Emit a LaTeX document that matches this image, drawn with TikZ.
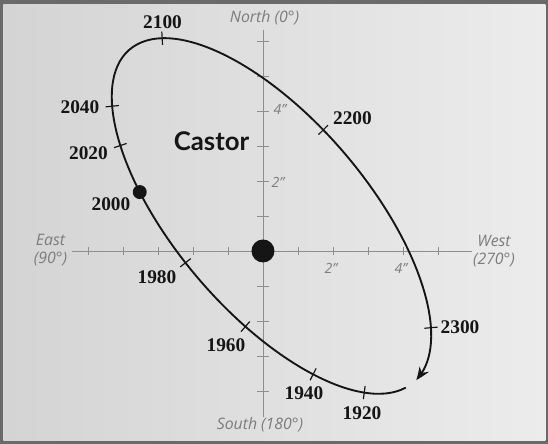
\documentclass[tikz,border=0pt]{standalone}
\usepackage{fontspec}
\setmainfont{Liberation Serif}
\setsansfont{Lato}
\newfontfamily\axisfont{Open Sans}
\usepackage{tikz}
\usetikzlibrary{calc,arrows.meta,bending}
\definecolor{colorframe}{HTML}{6A6A6A}
\definecolor{colorbgl}{HTML}{D4D4D4}
\definecolor{colorbgr}{HTML}{ECECEC}
\definecolor{coloraxis}{HTML}{8E8E8E}
\definecolor{colortext}{HTML}{7C7C7C}
\definecolor{colorink}{HTML}{151515}
\tikzset{
  axisline/.style={coloraxis, line width=0.7pt},
  axistick/.style={coloraxis, line width=0.6pt},
  orbit/.style={colorink, line width=1.6pt, -{Stealth[length=4mm, width=3.2mm, bend]}},
  yeartick/.style={colorink, line width=1pt},
  year/.style={draw=none, inner sep=0pt, colorink, font=\bfseries\fontsize{16.5}{18}\selectfont},
  compass/.style={draw=none, inner sep=0pt, colortext, align=center,
    font=\axisfont\itshape\fontsize{13.5}{15.5}\selectfont},
  arcsec/.style={draw=none, inner sep=0pt, colortext, font=\axisfont\itshape\fontsize{12}{14}\selectfont},
  stardot/.style={circle, fill=colorink, draw=none, inner sep=0pt}
}
\newcommand\asec[1]{#1”}

\begin{document}
\begin{tikzpicture}[x=1.05cm, y=1.05cm]
% page
\fill[colorframe] (-7.514,-5.514) rectangle (8.143,7.171);
\shade[left color=colorbgl, right color=colorbgr] (-7.42,-5.42) rectangle (8.07,7.04);
\useasboundingbox (-7.514,-5.514) rectangle (8.143,7.171);

% axes
\draw[axisline] (-5.46,0) -- (5.97,0);
\draw[axisline] (0,-4.74) -- (0,6.31);
\foreach \i in {1,...,5}{
  \draw[axistick] (\i,-0.12) -- (\i,0.12);
  \draw[axistick] (-\i,-0.12) -- (-\i,0.12);
}
\foreach \i in {1,...,6}
  \draw[axistick] (-0.16,\i) -- (0.16,\i);
\foreach \i in {1,...,4}
  \draw[axistick] (-0.16,-\i) -- (0.16,-\i);

\node[compass] (north) at (0.043,6.657) {North (0°)};
\node[compass] (south) at (-0.086,-4.971) {South (180°)};
\node[compass] (east) at (-6.071,0.014) {East\\(90°)};
\node[compass] (west) at (6.6,0) {West\\(270°)};

\node[arcsec] (v2) at (0.43,1.97) {\asec{2}};
\node[arcsec] (v4) at (0.486,4.03) {\asec{4}};
\node[arcsec] (h2) at (1.94,-0.486) {\asec{2}};
\node[arcsec] (h4) at (3.94,-0.486) {\asec{4}};

% orbit
\begin{scope}[shift={(0.243,1.0)}, rotate=-49.55]
\draw[orbit] ({6.25*cos(-5.5)},{2.75*sin(-5.5)})
  arc[start angle=-5.5, end angle=-357.8, x radius=6.25, y radius=2.75];
\foreach \t/\yr in {-27.2/1920, -47.6/1940, -72.1/1960, -95.3/1980,
  -118.3/2000, -133.9/2020, -148.7/2040, -199.5/2100, -261.6/2200, -329.5/2300}{
  \coordinate (t\yr) at ({6.25*cos(\t)},{2.75*sin(\t)});
  \coordinate (n\yr) at ({6.25*cos(\t+2)},{2.75*sin(\t+2)});
}
\end{scope}

\foreach \yr in {1920,1940,1960,1980,2020,2040,2100,2200,2300}
  \draw[yeartick] ($(t\yr)!0.2cm!90:(n\yr)$) -- ($(t\yr)!0.2cm!-90:(n\yr)$);

\node[stardot, minimum size=0.69cm] (castor) at (0,0) {};
\node[stardot, minimum size=0.42cm] (now) at (t2000) {};

\foreach \yr/\x/\y in {2100/-2.871/6.543, 2040/-5.229/4.114, 2020/-4.986/2.8,
  2000/-4.343/1.343, 1980/-3.029/-0.743, 1960/-1.057/-2.686, 1940/1.171/-4.057,
  1920/2.829/-4.629, 2200/2.557/3.8, 2300/5.629/-2.171}
  \node[year] (l\yr) at (\x,\y) {\yr};

\node[draw=none, inner sep=0pt, colorink, font=\sffamily\bfseries\fontsize{22}{24}\selectfont]
  (name) at (-1.471,3.143) {Castor};
\end{tikzpicture}
\end{document}
